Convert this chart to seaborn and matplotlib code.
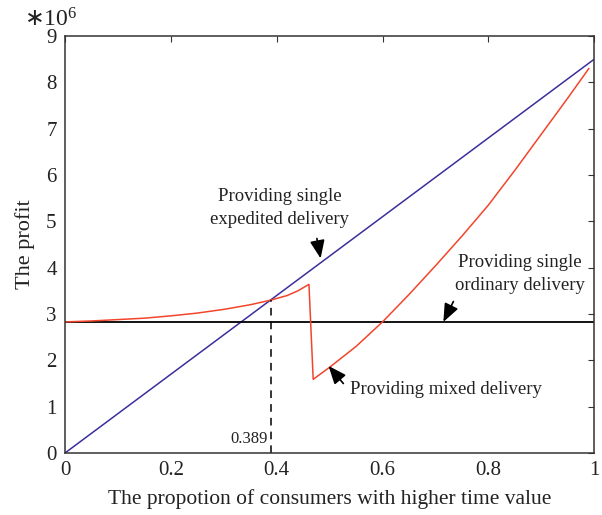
import numpy as np
import pandas as pd
import seaborn as sns
import matplotlib.pyplot as plt

# values (profit in units of 1e6)
share = [0.0, 1.0]
expedited = [0.0, 8.5]
ordinary = [2.83, 2.83]

mixed_x = [0.0, 0.05, 0.10, 0.15, 0.20, 0.25, 0.30, 0.35, 0.389, 0.42, 0.44, 0.461,
           0.469, 0.50, 0.55, 0.60, 0.65, 0.70, 0.75, 0.80, 0.85, 0.90, 0.95, 0.99]
mixed_y = [2.83, 2.85, 2.88, 2.91, 2.96, 3.02, 3.10, 3.20, 3.30, 3.40, 3.50, 3.64,
           1.59, 1.85, 2.30, 2.83, 3.42, 4.04, 4.68, 5.35, 6.10, 6.88, 7.66, 8.30]

split_x = 0.389
x_ticks = [0, 0.2, 0.4, 0.6, 0.8, 1]
x_tick_labels = ["0", "0.2", "0.4", "0.6", "0.8", "1"]
y_ticks = list(range(10))

sns.set_style("white")
plt.rcParams['font.family'] = ['Liberation Serif', 'DejaVu Serif']

fig = plt.figure(figsize=(6.02, 5.15), dpi=100)
ax = fig.add_axes([0.108, 0.1204, 0.879, 0.8096])

df_lines = pd.DataFrame({"x": share, "exp": expedited, "ord": ordinary})
df_mixed = pd.DataFrame({"x": mixed_x, "y": mixed_y})

sns.lineplot(data=df_lines, x="x", y="exp", ax=ax, color="#3a2f9c", linewidth=1.1)
sns.lineplot(data=df_lines, x="x", y="ord", ax=ax, color="black", linewidth=1.3)
sns.lineplot(data=df_mixed, x="x", y="y", ax=ax, color="#f2452c", linewidth=1.1,
             sort=False, estimator=None)

# dashed drop line at the crossing point
cross_y = np.interp(split_x, share, expedited)
ax.plot([split_x, split_x], [0, cross_y], color="black", linestyle=(0, (5, 4)), linewidth=1.1)
ax.text(split_x - 0.006, 0.12, "0.389", ha="right", va="bottom", fontsize=12, color="#222222")

ax.set_xlim(0, 1)
ax.set_ylim(0, 9)
ax.set_xticks(x_ticks)
ax.set_xticklabels(x_tick_labels)
ax.set_yticks(y_ticks)
ax.tick_params(direction="in", length=4, top=True, right=True, labelsize=15,
               color="#333333", labelcolor="#222222", pad=6)
for s in ax.spines.values():
    s.set_color("#333333")
    s.set_linewidth(1.1)

ax.set_xlabel("The propotion of consumers with higher time value", fontsize=15.5,
              color="#222222", labelpad=6)
ax.set_ylabel("The profit", fontsize=16, color="#222222", labelpad=8)
ax.text(-0.078, 1.012, r"$\ast\mathregular{10^6}$", transform=ax.transAxes, fontsize=17,
        color="#222222", ha="left", va="bottom")

arrow = dict(arrowstyle="-|>,head_length=1.1,head_width=0.45", color="black", lw=1.2,
             shrinkA=0, shrinkB=0)
txt = dict(fontsize=13.5, color="#222222", ha="center", va="center", linespacing=1.45)

ax.text(0.406, 5.28, "Providing single\nexpedited delivery", **txt)
ax.annotate("", xy=(0.483, 4.2), xytext=(0.476, 4.63), arrowprops=arrow)

ax.text(0.860, 3.86, "Providing single\nordinary delivery", **txt)
ax.annotate("", xy=(0.715, 2.83), xytext=(0.734, 3.27), arrowprops=arrow)

ax.text(0.539, 1.38, "Providing mixed delivery", fontsize=13.5, color="#222222",
        ha="left", va="center")
ax.annotate("", xy=(0.498, 1.88), xytext=(0.526, 1.50), arrowprops=arrow)

fig.savefig("out.png", dpi=100)
